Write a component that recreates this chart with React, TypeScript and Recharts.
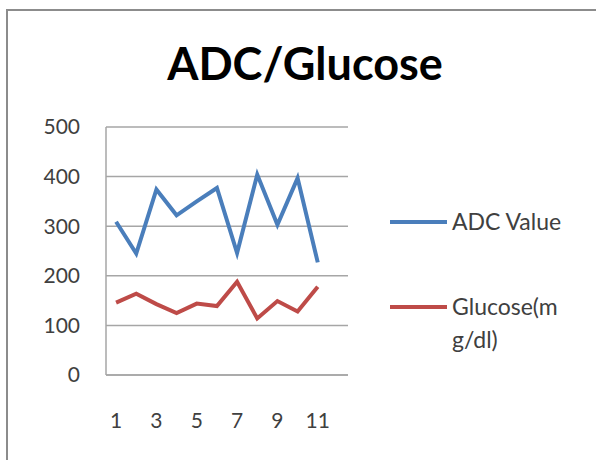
import { LineChart, Line, XAxis, YAxis, CartesianGrid } from 'recharts';

const samples = [1, 2, 3, 4, 5, 6, 7, 8, 9, 10, 11];
const adcValue = [309, 245, 374, 322, 350, 377, 246, 404, 303, 397, 227];
const glucose = [146, 164, 143, 125, 144, 139, 188, 114, 149, 128, 178];
const xTicks = [1, 3, 5, 7, 9, 11];
const yTicks = [0, 100, 200, 300, 400, 500];

const series = [
  { key: 'adc', name: 'ADC Value', color: '#4a7ebb' },
  { key: 'glucose', name: 'Glucose(mg/dl)', color: '#be4b48' },
];

const data = samples.map((s, i) => ({ sample: s, adc: adcValue[i], glucose: glucose[i] }));

const FONT = 'Lato, "Open Sans", sans-serif';
const TEXT = '#404040';

// legend sits to the right of the plot, like the Excel original
function SideLegend() {
  return (
    <div style={{ position: 'absolute', left: 390, top: 205, fontFamily: FONT, fontSize: 23, color: TEXT }}>
      {series.map((s, i) => (
        <div key={s.key} style={{ display: 'flex', alignItems: 'flex-start', marginTop: i === 0 ? 0 : 52 }}>
          <div style={{ width: 57, height: 4, background: s.color, marginTop: 15, marginRight: 5 }} />
          <div style={{ width: 122, lineHeight: '33px', wordBreak: 'break-all' }}>{s.name}</div>
        </div>
      ))}
    </div>
  );
}

export default function App() {
  return (
    <div style={{ position: 'fixed', left: 0, top: 0, width: 596, height: 460, background: '#fff' }}>
      <div style={{ position: 'absolute', left: 6, top: 9, right: 0, bottom: 0, borderLeft: '2px solid #8c8c8c', borderTop: '2px solid #8c8c8c' }} />
      <div style={{ position: 'absolute', left: 0, width: 610, top: 36, textAlign: 'center', fontFamily: FONT, fontWeight: 700, fontSize: 45, color: '#000' }}>
        ADC/Glucose
      </div>
      <LineChart width={596} height={460} data={data} margin={{ top: 127, right: 248, left: 46, bottom: 25 }}>
        <CartesianGrid vertical={false} stroke="#a6a6a6" strokeWidth={1.5} />
        <XAxis
          dataKey="sample"
          type="number"
          domain={[0.5, 12.5]}
          ticks={xTicks}
          height={60}
          tickLine={false}
          tickSize={0}
          tickMargin={38}
          axisLine={{ stroke: '#a6a6a6', strokeWidth: 1.5 }}
          tick={{ fill: TEXT, fontSize: 21, fontFamily: FONT }}
        />
        <YAxis
          domain={[0, 500]}
          ticks={yTicks}
          width={60}
          tickLine={false}
          tickSize={0}
          tickMargin={26}
          axisLine={{ stroke: '#a6a6a6', strokeWidth: 1.5 }}
          tick={{ fill: TEXT, fontSize: 21, fontFamily: FONT }}
        />
        {series.map((s) => (
          <Line key={s.key} dataKey={s.key} name={s.name} stroke={s.color} strokeWidth={4} dot={false} isAnimationActive={false} />
        ))}
      </LineChart>
      <SideLegend />
    </div>
  );
}
